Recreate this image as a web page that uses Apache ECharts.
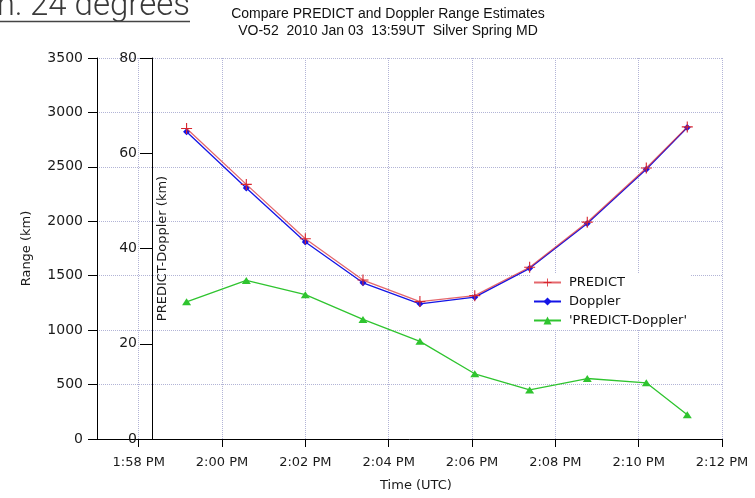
<!DOCTYPE html>
<html>
<head>
<meta charset="utf-8">
<script src="https://cdn.jsdelivr.net/npm/echarts@6/dist/echarts.min.js"></script>
<style>
  html, body { margin: 0; padding: 0; background: #fff; }
  #chart { width: 755px; height: 498px; }
</style>
</head>
<body>
<div id="chart"></div>
<script>
// Pass sample times (UTC) for VO-52, 2010 Jan 03
const sampleTimes = ['13:59:09', '14:00:35', '14:02:00', '14:03:23', '14:04:45',
                     '14:06:04', '14:07:23', '14:08:46', '14:10:11', '14:11:10'];
// Slant range estimates, km
const predictRange = [2852, 2339, 1840, 1460, 1262, 1317, 1578, 1992, 2490, 2867];
const dopplerRange = [2823, 2306, 1810, 1435, 1242, 1303, 1568, 1979, 2478, 2862];
// PREDICT minus Doppler, km
const predictMinusDoppler = [28.8, 33.3, 30.3, 25.1, 20.5, 13.7, 10.3, 12.7, 11.8, 5.1];

// Axis ticks
const timeTicks = ['13:58', '14:00', '14:02', '14:04', '14:06', '14:08', '14:10', '14:12'];
const timeAxisStart = '13:57';
const timeAxisEnd = '14:12';
const rangeTicks = [0, 500, 1000, 1500, 2000, 2500, 3000, 3500];
const diffTicks = [0, 20, 40, 60, 80];

const seriesNames = ['PREDICT', 'Doppler', "'PREDICT-Doppler'"];

// "HH:MM[:SS]" -> minutes after midnight
function toMinutes(s) {
  const p = s.split(':').map(Number);
  return p[0] * 60 + p[1] + (p[2] || 0) / 60;
}
// minutes after midnight -> "h:mm PM"
function clockLabel(m) {
  const h24 = Math.floor(m / 60 + 1e-6);
  const mm = Math.round(m - h24 * 60);
  const h12 = h24 % 12 === 0 ? 12 : h24 % 12;
  return h12 + ':' + String(mm).padStart(2, '0') + (h24 >= 12 ? ' PM' : ' AM');
}

const t = sampleTimes.map(toMinutes);
const pairs = vals => vals.map((v, i) => [t[i], v]);
const tickVals = timeTicks.map(toMinutes);

const gridDots = { type: [1, 1], color: '#b2b4d6', width: 1 };
const axisFont = { fontFamily: 'DejaVu Sans', fontSize: 13, color: '#1a1a1a' };
const valueFont = Object.assign({}, axisFont, { fontSize: 14 });
const plainNumber = v => String(v);
const plusPath = 'path://M-0.6,-6 L0.6,-6 L0.6,-0.6 L6,-0.6 L6,0.6 L0.6,0.6 L0.6,6 L-0.6,6 L-0.6,0.6 L-6,0.6 L-6,-0.6 L-0.6,-0.6 Z';

const chart = echarts.init(document.getElementById('chart'), null, { renderer: 'canvas' });

chart.setOption({
  backgroundColor: '#ffffff',
  animation: false,
  title: {
    text: 'Compare PREDICT and Doppler Range Estimates\nVO-52  2010 Jan 03  13:59UT  Silver Spring MD',
    left: 388,
    top: 6,
    textAlign: 'center',
    padding: 0,
    textStyle: {
      fontFamily: 'Liberation Sans, Arial, sans-serif',
      fontSize: 14,
      fontWeight: 'normal',
      color: '#111',
      lineHeight: 17
    }
  },
  graphic: [
    {
      type: 'text',
      style: {
        text: 'h: 24 degrees',
        x: 190, y: 6.5,
        align: 'right', verticalAlign: 'middle',
        font: '300 33px Roboto, "Open Sans", sans-serif',
        fill: '#3a3a3a'
      }
    },
    {
      type: 'line',
      shape: { x1: 0, y1: 21.5, x2: 190, y2: 21.5 },
      style: { stroke: '#444', lineWidth: 1.5 }
    }
  ],
  legend: {
    data: seriesNames,
    orient: 'vertical',
    left: 530,
    top: 273,
    padding: [3, 4, 3, 3],
    itemWidth: 27,
    itemHeight: 10,
    itemGap: 6,
    backgroundColor: '#ffffff',
    textStyle: { fontFamily: 'DejaVu Sans', fontSize: 13, color: '#111', padding: [0, 0, 0, 3] }
  },
  grid: { left: 97, right: 33, top: 58, bottom: 59, outerBoundsMode: 'none' },
  xAxis: {
    type: 'value',
    min: toMinutes(timeAxisStart),
    max: toMinutes(timeAxisEnd),
    name: 'Time (UTC)',
    nameLocation: 'middle',
    nameGap: 40,
    nameTextStyle: Object.assign({}, axisFont, { padding: [0, 0, 0, 13] }),
    axisLine: { onZero: false, lineStyle: { color: '#000', width: 1 } },
    axisTick: { customValues: tickVals, length: 8, lineStyle: { color: '#000' } },
    axisLabel: Object.assign({ customValues: tickVals, margin: 17, formatter: clockLabel }, axisFont),
    splitLine: { show: true, lineStyle: gridDots }
  },
  yAxis: [
    {
      type: 'value',
      position: 'left',
      min: rangeTicks[0],
      max: rangeTicks[rangeTicks.length - 1],
      interval: rangeTicks[1] - rangeTicks[0],
      name: 'Range (km)',
      nameLocation: 'middle',
      nameGap: 64,
      nameMoveOverlap: false,
      nameTextStyle: axisFont,
      axisLine: { show: true, onZero: false, lineStyle: { color: '#000', width: 1 } },
      axisTick: { show: true, length: 9, lineStyle: { color: '#000' } },
      axisLabel: Object.assign({ margin: 14, formatter: plainNumber }, valueFont),
      splitLine: { show: true, lineStyle: gridDots }
    },
    {
      type: 'value',
      position: 'left',
      offset: -55,
      min: diffTicks[0],
      max: diffTicks[diffTicks.length - 1],
      interval: diffTicks[1] - diffTicks[0],
      name: 'PREDICT-Doppler (km)',
      nameLocation: 'middle',
      nameGap: -17,
      nameMoveOverlap: false,
      nameTextStyle: axisFont,
      axisLine: { show: true, onZero: false, lineStyle: { color: '#000', width: 1 } },
      axisTick: { show: true, length: 12, lineStyle: { color: '#000' } },
      axisLabel: Object.assign({ margin: 15, formatter: plainNumber }, valueFont),
      splitLine: { show: false }
    }
  ],
  series: [
    {
      name: 'Doppler',
      type: 'line',
      yAxisIndex: 0,
      data: pairs(dopplerRange),
      symbol: 'diamond',
      symbolSize: 7,
      color: '#1414e6',
      lineStyle: { color: '#1414e6', width: 1.3 },
      itemStyle: { color: '#1414e6' },
      z: 2
    },
    {
      name: 'PREDICT',
      type: 'line',
      yAxisIndex: 0,
      data: pairs(predictRange),
      symbol: plusPath,
      symbolSize: 11,
      color: '#d8262e',
      lineStyle: { color: '#d8262e', width: 1.3, opacity: 0.7 },
      itemStyle: { color: '#d8262e' },
      z: 3
    },
    {
      name: seriesNames[2],
      type: 'line',
      yAxisIndex: 1,
      data: pairs(predictMinusDoppler),
      symbol: 'triangle',
      symbolSize: [9, 7],
      color: '#2fc42f',
      lineStyle: { color: '#2fc42f', width: 1.3 },
      itemStyle: { color: '#2fc42f' },
      z: 2
    }
  ]
});
</script>
</body>
</html>
